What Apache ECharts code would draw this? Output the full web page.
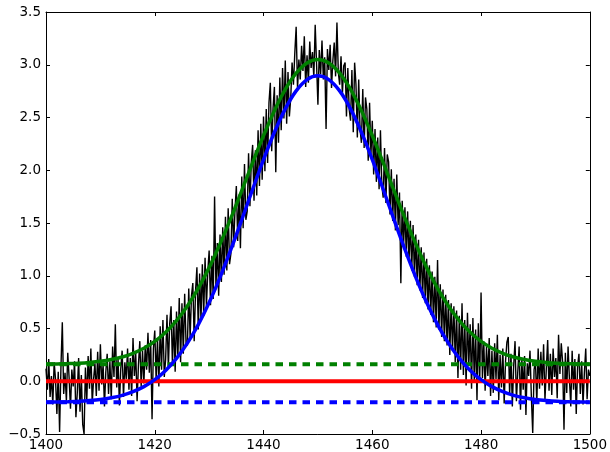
<!DOCTYPE html>
<html>
<head>
<meta charset="utf-8">
<script src="https://cdn.jsdelivr.net/npm/echarts@6/dist/echarts.min.js"></script>
<style>
  html, body { margin: 0; padding: 0; background: #fff; }
  #chart { width: 610px; height: 452px; }
</style>
</head>
<body>
<div id="chart"></div>
<script>
// Sampled spectrum: one reading every SAMPLE_STEP starting at X_START
const X_START = 1400;
const SAMPLE_STEP = 0.25;
const measured = [
  // 1400 - 1419
  0.12,-0.08,0.21,-0.15, 0.05,-0.22,0.18,0.02, -0.31,0.09,-0.48,0.14, 0.56,-0.12,0.08,-0.19,
  0.27,0.03,-0.26,0.11, -0.05,0.19,-0.34,-0.11, 0.22,-0.29,0.06,-0.41, -0.50,0.13,-0.18,0.24,
  -0.07,0.31,-0.21,0.02, 0.17,-0.14,0.28,-0.09, 0.35,-0.03,0.16,-0.24, 0.09,0.26,-0.12,0.19,
  -0.17,0.33,0.04,0.54, -0.06,0.21,-0.23,0.12, 0.29,-0.15,0.18,0.02, 0.31,-0.08,0.22,-0.14,
  0.41,0.05,0.27,-0.19, 0.16,0.38,-0.05,0.29, -0.02,0.34,0.11,0.46, 0.08,0.39,-0.36,0.31,
  // 1420 - 1444
  0.48,0.02,0.41,-0.05, 0.52,0.11,0.58,0.04, 0.21,0.63,0.12,0.55, 0.71,0.15,0.58,0.09,
  0.66,0.22,0.79,0.18, 0.74,0.26,0.83,0.36, 0.34,0.88,0.41,0.81, 0.93,0.38,0.86,1.08,
  0.49,1.02,0.58,1.11, 0.62,1.17,0.71,1.04, 1.24,0.72,1.19,0.78, 1.75,0.88,1.31,0.81,
  1.39,0.94,1.46,1.01, 1.56,1.05,1.64,1.11, 1.21,1.73,1.27,1.62, 1.85,1.33,1.77,1.26,
  1.94,1.45,2.06,1.53, 1.61,2.16,1.66,2.08, 2.24,1.71,2.19,1.76, 2.38,1.85,2.44,1.91,
  2.51,1.99,2.58,2.07, 2.64,2.83,2.18,2.59, 2.79,1.98,2.71,2.26, 2.88,2.38,2.97,2.49,
  3.04,2.44,2.93,2.51,
  // 1445 - 1454
  2.68,3.02,2.81,3.11, 3.36,2.77,3.05,2.86, 3.18,2.94,3.27,2.79,
  3.09,2.83,3.22,2.97, 3.12,2.88,3.38,3.01, 2.62,3.14,2.91,3.23, 2.86,3.07,2.39,3.15,
  2.95,3.19,2.78,3.04, 3.21,2.89,3.40,2.93, 2.81,3.08,2.72,2.99,
  // 1455 - 1479
  3.02,2.51,2.97,2.58, 2.47,2.95,2.36,3.02, 2.81,2.31,2.86,2.39, 2.26,2.77,2.21,2.69,
  2.58,2.09,2.64,2.15, 2.47,1.96,2.39,1.89, 2.31,1.82,2.38,1.86, 1.74,2.21,1.69,2.15,
  2.08,1.58,2.01,1.52, 1.92,1.43,1.96,1.48, 1.79,0.93,1.71,1.28, 1.65,1.18,1.61,1.13,
  1.52,1.05,1.48,0.99, 1.39,0.91,1.34,0.86, 1.27,0.79,1.22,0.74, 1.16,0.68,1.10,0.63,
  1.04,0.56,0.99,0.51, 1.15,0.49,0.92,0.42, 0.87,0.38,0.82,0.34, 0.77,0.25,0.74,0.29,
  0.71,0.18,0.67,0.03, 0.62,0.11,0.74,0.06, 0.58,-0.04,0.65,0.15, 0.54,-0.07,0.60,0.01,
  0.49,-0.18,0.55,-0.01,
  // 1480 - 1500
  0.84,0.03,0.38,-0.09, 0.33,0.05,0.41,-0.14, 0.29,-0.11,0.36,0.02, 0.44,-0.18,0.25,-0.06,
  0.31,-0.21,0.19,0.37, 0.42,-0.12,0.26,-0.24, 0.15,0.38,-0.19,0.09, 0.33,-0.27,0.21,-0.08,
  0.24,-0.32,0.17,0.05, 0.29,-0.15,-0.49,0.11, 0.19,-0.21,0.31,-0.07, 0.28,-0.04,0.35,-0.18,
  0.12,0.39,-0.09,0.26, -0.13,0.31,0.04,0.22, -0.16,0.44,0.07,0.36, 0.18,-0.46,0.27,-0.11,
  0.33,0.02,-0.24,0.29, -0.08,0.21,-0.31,0.14, 0.26,-0.12,0.19,-0.22, 0.08,0.31,-0.17,0.11,
  0.05
];

// Fitted profiles, one value every FIT_STEP from X_START
const FIT_STEP = 2;
const fitGreen = [
  0.162,0.164,0.167,0.171,0.178,0.189,0.206,0.230,0.265,0.313,0.378,0.465,0.575,
  0.714,0.881,1.077,1.301,1.546,1.807,2.072,2.329,2.565,2.766,2.920,3.017,
  3.050,
  3.017,2.920,2.766,2.565,2.329,2.072,1.807,1.546,1.301,1.077,0.881,0.714,
  0.575,0.465,0.378,0.313,0.265,0.230,0.206,0.189,0.178,0.171,0.167,0.164,0.162
];
const fitBlue = [
  -0.198,-0.197,-0.194,-0.190,-0.183,-0.173,-0.157,-0.134,-0.099,-0.051,0.015,0.103,0.217,
  0.361,0.537,0.746,0.985,1.249,1.531,1.820,2.101,2.360,2.582,2.752,2.859,
  2.895,
  2.859,2.752,2.582,2.360,2.101,1.820,1.531,1.249,0.985,0.746,0.537,0.361,
  0.217,0.103,0.015,-0.051,-0.099,-0.134,-0.157,-0.173,-0.183,-0.190,-0.194,-0.197,-0.198
];

// Constant levels: zero line and the two fitted baselines
const levelZero = 0;
const levelGreen = 0.16;
const levelBlue = -0.2;

// Tick values
const xTicks = [1400, 1420, 1440, 1460, 1480, 1500];
const yTicks = [-0.5, 0.0, 0.5, 1.0, 1.5, 2.0, 2.5, 3.0, 3.5];

const xMin = xTicks[0], xMax = xTicks[xTicks.length - 1];
const yMin = yTicks[0], yMax = yTicks[yTicks.length - 1];

const measuredPts = measured.map((y, i) => [X_START + i * SAMPLE_STEP, y]);
const greenPts = fitGreen.map((y, i) => [X_START + i * FIT_STEP, y]);
const bluePts = fitBlue.map((y, i) => [X_START + i * FIT_STEP, y]);
const flat = v => [[xMin, v], [xMax, v]];

const FONT = 'DejaVu Sans';
const tickStyle = { show: true, inside: true, length: 4, lineStyle: { color: '#000', width: 1 } };
const lineAx = { show: true, onZero: false, lineStyle: { color: '#000', width: 1 } };

function xAx(pos, labels) {
  return {
    type: 'value', position: pos, min: xMin, max: xMax, interval: xTicks[1] - xTicks[0],
    axisLine: lineAx, axisTick: tickStyle, splitLine: { show: false },
    axisLabel: { show: labels, color: '#000', fontFamily: FONT, fontSize: 13.5, margin: 4,
                 formatter: v => String(v) }
  };
}
function yAx(pos, labels) {
  return {
    type: 'value', position: pos, min: yMin, max: yMax, interval: yTicks[1] - yTicks[0],
    axisLine: lineAx, axisTick: tickStyle, splitLine: { show: false },
    axisLabel: { show: labels, color: '#000', fontFamily: FONT, fontSize: 13.5, margin: 5,
                 formatter: v => v.toFixed(1).replace('-', '\u2212') }
  };
}

const chart = echarts.init(document.getElementById('chart'), null, { renderer: 'canvas' });
chart.setOption({
  animation: false,
  backgroundColor: '#fff',
  grid: { left: 46, right: 18, top: 12, bottom: 18, containLabel: false },
  xAxis: [xAx('bottom', true), xAx('top', false)],
  yAxis: [yAx('left', true), yAx('right', false)],
  series: [
    { type: 'line', data: measuredPts, symbol: 'none', z: 1,
      lineStyle: { color: '#000', width: 1.4 } },
    { type: 'line', data: flat(levelZero), symbol: 'none', z: 2,
      lineStyle: { color: '#ff0000', width: 4 } },
    { type: 'line', data: flat(levelGreen), symbol: 'none', z: 2,
      lineStyle: { color: '#008000', width: 4, type: [7.5, 6], cap: 'butt' } },
    { type: 'line', data: flat(levelBlue), symbol: 'none', z: 2,
      lineStyle: { color: '#0000ff', width: 4, type: [7.5, 6], cap: 'butt' } },
    { type: 'line', data: greenPts, symbol: 'none', smooth: 0.3, z: 3,
      lineStyle: { color: '#008000', width: 3.5 } },
    { type: 'line', data: bluePts, symbol: 'none', smooth: 0.3, z: 3,
      lineStyle: { color: '#0000ff', width: 3.5 } }
  ]
});
</script>
</body>
</html>
